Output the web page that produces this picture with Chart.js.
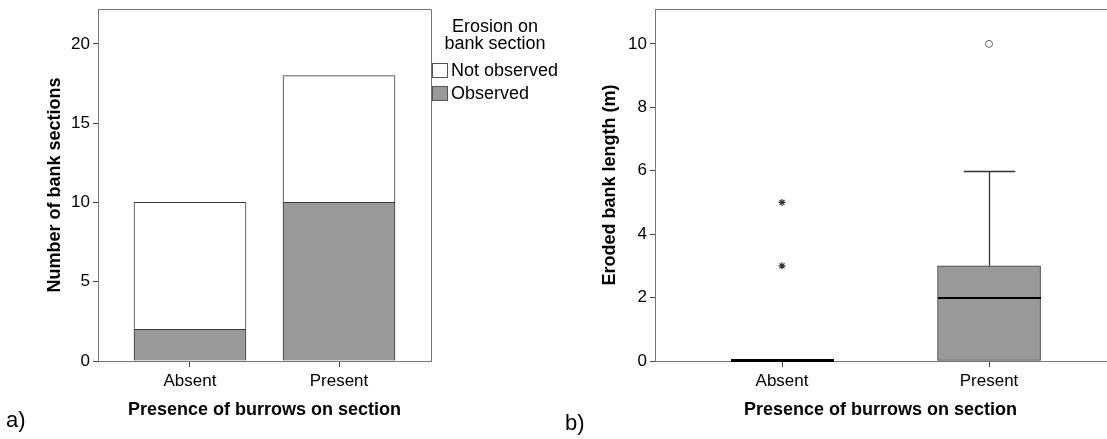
<!DOCTYPE html>
<html><head><meta charset="utf-8">
<script src="https://cdn.jsdelivr.net/npm/chart.js@4"></script>
<style>
html,body{margin:0;padding:0;background:#fff;width:1107px;height:439px;overflow:hidden;font-family:'Liberation Sans',Arial,sans-serif}
#ca{position:absolute;left:0;top:0}
#cb{position:absolute;left:560px;top:0}
.lab{position:absolute;font-size:22px;color:#000;line-height:22px}
</style></head><body>
<canvas id="ca" width="560" height="439"></canvas>
<canvas id="cb" width="547" height="439"></canvas>
<div class="lab" style="left:6px;top:409px">a)</div>
<div class="lab" style="left:565px;top:412px">b)</div>
<script>
// ---- data ----
const categories = ['Absent', 'Present'];
const observed = [2, 10];
const notObserved = [8, 8];
const legendTitle = ['Erosion on', 'bank section'];
const xTitle = 'Presence of burrows on section';
const yTitleA = 'Number of bank sections';
const yTitleB = 'Eroded bank length (m)';
const yTicksA = [0, 5, 10, 15, 20];
const yTicksB = [0, 2, 4, 6, 8, 10];
const boxQ1 = [0, 0];
const boxQ3 = [0, 3];
const boxMedian = [0, 2];
const whiskerLow = [0, 0];
const whiskerHigh = [0, 6];
const outlierCat = [1];
const outlierVal = [10];
const extremeCat = [0, 0];
const extremeVal = [3, 5];

const FONT = "'Liberation Sans', Arial, sans-serif";
const AXIS = '#777777';
const TICK = '#444444';
const EDGE = '#3a3a3a';
const FILL = '#999999';

const frameA = {
  id: 'frameA',
  afterDatasetsDraw(chart) {
    const {ctx, chartArea: a} = chart;
    ctx.save();
    ctx.strokeStyle = AXIS; ctx.lineWidth = 1;
    ctx.beginPath();
    ctx.moveTo(Math.round(a.left) + 0.5, Math.round(a.top) + 0.5);
    ctx.lineTo(Math.round(a.right) + 0.5, Math.round(a.top) + 0.5);
    ctx.lineTo(Math.round(a.right) + 0.5, Math.round(a.bottom) + 0.5);
    ctx.stroke();
    ctx.restore();
  }
};

const legendA = {
  id: 'legendA',
  afterDraw(chart) {
    const {ctx, chartArea: a} = chart;
    ctx.save();
    ctx.font = '18px ' + FONT;
    ctx.fillStyle = '#000';
    ctx.textAlign = 'center';
    ctx.textBaseline = 'middle';
    const cx = a.right + 64;
    legendTitle.forEach((t, i) => ctx.fillText(t, cx, 27 + i * 17));
    const items = chart.data.datasets.slice().reverse();
    items.forEach((ds, i) => {
      const y = 63 + i * 22.5;
      const x = Math.round(a.right) + 1;
      ctx.fillStyle = ds.backgroundColor;
      ctx.fillRect(x, Math.round(y), 16, 15);
      ctx.strokeStyle = '#555';
      ctx.lineWidth = 1;
      ctx.strokeRect(x + 0.5, Math.round(y) + 0.5, 15, 14);
      ctx.fillStyle = '#000';
      ctx.textAlign = 'left';
      ctx.fillText(ds.label, x + 19, y + 8.5);
    });
    ctx.restore();
  }
};

function xAxis(min, max) {
  return {
    type: 'linear', stacked: true, min: min, max: max, offset: false,
    afterBuildTicks: s => { s.ticks = categories.map((c, i) => ({value: i})); },
    afterFit: s => { s.height = 78; s.paddingLeft = 0; s.paddingRight = 0; },
    ticks: {callback: v => categories[v], font: {family: FONT, size: 17}, color: '#000', padding: 4, maxRotation: 0, autoSkip: false},
    grid: {offset: false, drawOnChartArea: false, drawTicks: true, tickLength: 6, color: TICK},
    border: {display: true, color: AXIS},
    title: {display: true, text: xTitle, font: {family: FONT, size: 18, weight: 'bold', lineHeight: 1}, color: '#000', padding: {top: 0, bottom: 20}}
  };
}
function yAxis(max, ticks, width, title, tpad) {
  return {
    stacked: true, min: 0, max: max,
    afterBuildTicks: s => { s.ticks = ticks.map(v => ({value: v})); },
    afterFit: s => { s.width = width; s.paddingTop = 0; s.paddingBottom = 0; },
    ticks: {font: {family: FONT, size: 17}, color: '#000', padding: 3},
    grid: {drawOnChartArea: false, drawTicks: true, tickLength: 5, color: TICK},
    border: {display: true, color: AXIS},
    title: {display: true, text: title, font: {family: FONT, size: 18, weight: 'bold', lineHeight: 1}, color: '#000', padding: {top: tpad, bottom: 0}}
  };
}

new Chart(document.getElementById('ca'), {
  type: 'bar',
  data: {
    datasets: [
      {label: 'Observed', data: categories.map((c, i) => ({x: i, y: observed[i]})),
       backgroundColor: FILL, borderColor: EDGE, borderWidth: 1, barThickness: 112, stack: 's'},
      {label: 'Not observed', data: categories.map((c, i) => ({x: i, y: notObserved[i]})),
       backgroundColor: '#ffffff', borderColor: EDGE, borderWidth: 1, barThickness: 112, stack: 's'}
    ]
  },
  options: {
    responsive: false, animation: false, devicePixelRatio: 1,
    layout: {autoPadding: false, padding: {top: 9, left: 0, right: 129, bottom: 0}},
    plugins: {legend: {display: false}, tooltip: {enabled: false}},
    scales: {
      x: xAxis(-0.6174, 1.6174),
      y: yAxis(22.2, yTicksA, 98, yTitleA, 46)
    }
  },
  plugins: [frameA, legendA]
});

const frameB = {
  id: 'frameB',
  afterDatasetsDraw(chart) {
    const {ctx, chartArea: a} = chart;
    ctx.save();
    ctx.strokeStyle = AXIS; ctx.lineWidth = 1;
    ctx.beginPath();
    ctx.moveTo(Math.round(a.left) + 0.5, Math.round(a.top) + 0.5);
    ctx.lineTo(chart.width, Math.round(a.top) + 0.5);
    ctx.stroke();
    ctx.restore();
  }
};

const boxB = {
  id: 'boxB',
  afterDatasetsDraw(chart) {
    const {ctx} = chart;
    const meta = chart.getDatasetMeta(0);
    const xs = chart.scales.x, ys = chart.scales.y;
    ctx.save();
    categories.forEach((c, i) => {
      const bar = meta.data[i];
      const x = Math.round(xs.getPixelForValue(i)) + 0.5;
      const w = bar.width;
      ctx.strokeStyle = '#333'; ctx.lineWidth = 1.3;
      const segs = [];
      if (whiskerHigh[i] > boxQ3[i]) segs.push([boxQ3[i], whiskerHigh[i]]);
      if (whiskerLow[i] < boxQ1[i]) segs.push([boxQ1[i], whiskerLow[i]]);
      segs.forEach(([from, to]) => {
        const y0 = ys.getPixelForValue(from), y1 = Math.round(ys.getPixelForValue(to)) + 0.5;
        ctx.beginPath(); ctx.moveTo(x, y0); ctx.lineTo(x, y1); ctx.stroke();
        ctx.beginPath(); ctx.moveTo(x - w / 4, y1); ctx.lineTo(x + w / 4, y1); ctx.stroke();
      });
      const ym = Math.round(ys.getPixelForValue(boxMedian[i]));
      ctx.strokeStyle = '#000';
      ctx.lineWidth = boxQ1[i] === boxQ3[i] ? 3 : 2;
      ctx.beginPath();
      ctx.moveTo(x - w / 2, boxQ1[i] === boxQ3[i] ? ym - 0.5 : ym);
      ctx.lineTo(x + w / 2, boxQ1[i] === boxQ3[i] ? ym - 0.5 : ym);
      ctx.stroke();
    });
    ctx.restore();
  }
};

new Chart(document.getElementById('cb'), {
  type: 'bar',
  data: {
    datasets: [
      {label: 'Box', data: categories.map((c, i) => ({x: i, y: [boxQ1[i], boxQ3[i]]})),
       backgroundColor: FILL, borderColor: EDGE, borderWidth: 1, borderSkipped: false, barThickness: 103},
      {type: 'scatter', label: 'Outliers', data: outlierCat.map((c, k) => ({x: c, y: outlierVal[k]})),
       pointStyle: 'circle', pointRadius: 3.5, backgroundColor: '#fff', borderColor: '#666', borderWidth: 1},
      {type: 'scatter', label: 'Extremes', data: extremeCat.map((c, k) => ({x: c, y: extremeVal[k]})),
       pointStyle: 'star', pointRadius: 3.5, backgroundColor: '#333', borderColor: '#333', borderWidth: 1.2}
    ]
  },
  options: {
    responsive: false, animation: false, devicePixelRatio: 1,
    layout: {autoPadding: false, padding: {top: 9, left: 0, right: 1, bottom: 0}},
    plugins: {legend: {display: false}, tooltip: {enabled: false}},
    scales: {
      x: Object.assign(xAxis(-0.6135, 1.565), {stacked: false}),
      y: Object.assign(yAxis(11.1, yTicksB, 95, yTitleB, 41), {stacked: false})
    }
  },
  plugins: [frameB, boxB]
});
</script>
</body></html>
